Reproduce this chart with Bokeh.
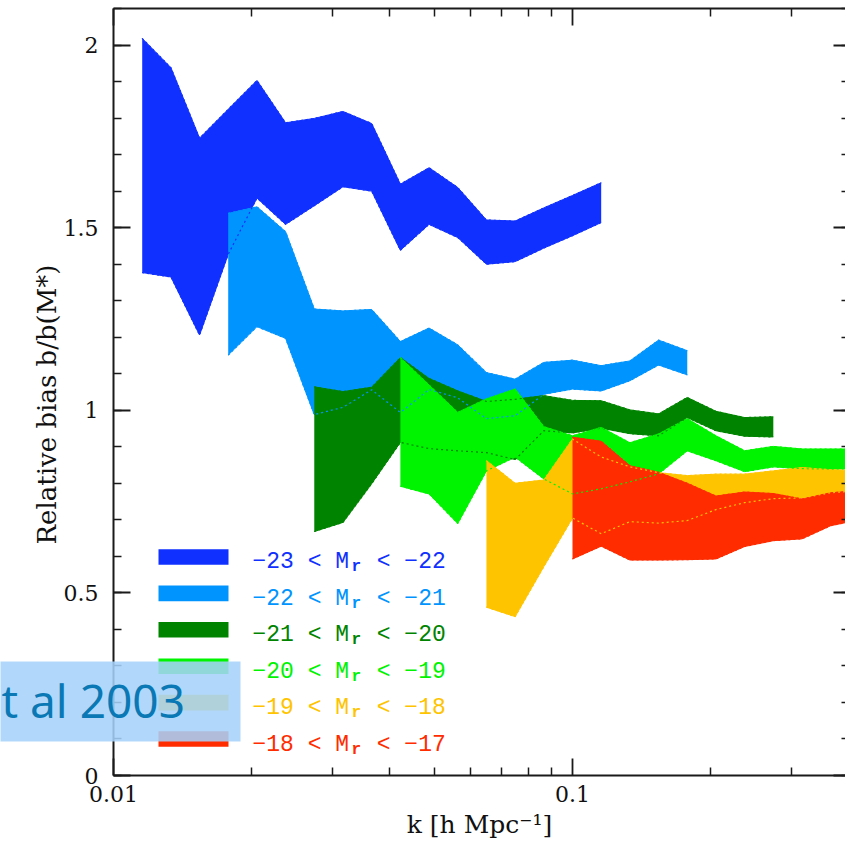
import math
from bokeh.plotting import figure
from bokeh.models import (Range1d, FixedTicker, SingleIntervalTicker, LinearAxis, LogAxis,
                          CustomJSTickFormatter, Label, BoxAnnotation)
from bokeh.embed import file_html
from bokeh.resources import INLINE

# ---------------- data ----------------
# k grid [h/Mpc], 16 bins per decade
k = [0.01155, 0.01334, 0.01540, 0.01778, 0.02054, 0.02371, 0.02738, 0.03162,
     0.03652, 0.04217, 0.04870, 0.05623, 0.06494, 0.07499, 0.08660, 0.10000,
     0.11548, 0.13335, 0.15399, 0.17783, 0.20535, 0.23714, 0.27384, 0.31623,
     0.36517, 0.42170]

# -23 < Mr < -22
k_m23 = k[0:17]
hi_m23 = [2.018, 1.938, 1.745, 1.824, 1.903, 1.787, 1.799, 1.818, 1.785, 1.619,
          1.664, 1.610, 1.521, 1.518, 1.554, 1.588, 1.623]
lo_m23 = [1.377, 1.365, 1.206, 1.427, 1.581, 1.509, 1.560, 1.612, 1.600, 1.438,
          1.509, 1.473, 1.400, 1.407, 1.444, 1.478, 1.514]

# -22 < Mr < -21
k_m22 = k[3:20]
hi_m22 = [1.539, 1.557, 1.489, 1.277, 1.272, 1.276, 1.188, 1.225, 1.179, 1.103,
          1.085, 1.131, 1.137, 1.122, 1.135, 1.192, 1.163]
lo_m22 = [1.151, 1.229, 1.197, 0.988, 1.008, 1.056, 0.994, 1.057, 1.034, 0.977,
          0.985, 1.044, 1.058, 1.053, 1.081, 1.124, 1.097]

# -21 < Mr < -20
k_m21 = k[6:23]
hi_m21 = [1.064, 1.051, 1.063, 1.144, 1.087, 1.053, 1.024, 1.030, 1.040, 1.027,
          1.026, 1.001, 0.990, 1.035, 0.997, 0.980, 0.982]
lo_m21 = [0.668, 0.693, 0.799, 0.912, 0.895, 0.889, 0.884, 0.865, 0.944, 0.938,
          0.951, 0.936, 0.930, 0.980, 0.944, 0.929, 0.927]

# -20 < Mr < -19
k_m20 = k[9:26]
hi_m20 = [1.144, 1.069, 0.994, 1.031, 1.058, 0.955, 0.930, 0.953, 0.911, 0.935,
          0.977, 0.930, 0.889, 0.901, 0.894, 0.894, 0.894]
lo_m20 = [0.792, 0.771, 0.690, 0.834, 0.872, 0.812, 0.771, 0.785, 0.804, 0.826,
          0.889, 0.862, 0.832, 0.845, 0.840, 0.839, 0.840]

# -19 < Mr < -18
k_m19 = k[12:26]
hi_m19 = [0.862, 0.800, 0.809, 0.921, 0.872, 0.845, 0.829, 0.821, 0.825, 0.825,
          0.834, 0.843, 0.837, 0.835]
lo_m19 = [0.461, 0.435, 0.572, 0.705, 0.662, 0.695, 0.691, 0.698, 0.728, 0.747,
          0.758, 0.760, 0.774, 0.780]

# -18 < Mr < -17
k_m18 = k[15:26]
hi_m18 = [0.926, 0.915, 0.848, 0.830, 0.800, 0.765, 0.776, 0.772, 0.757, 0.774, 0.780]
lo_m18 = [0.593, 0.628, 0.590, 0.590, 0.591, 0.593, 0.627, 0.643, 0.648, 0.684, 0.700]

mag_bright = ["\u221223", "\u221222", "\u221221", "\u221220", "\u221219", "\u221218"]
mag_faint = ["\u221222", "\u221221", "\u221220", "\u221219", "\u221218", "\u221217"]

x_ticks = [0.01, 0.1, 1.0]
x_minor = [0.02, 0.03, 0.04, 0.05, 0.06, 0.07, 0.08, 0.09, 0.2, 0.3, 0.4, 0.5]

# ---------------- styling / layout ----------------
colors = ["#1030ff", "#0094ff", "#008400", "#00f400", "#ffc400", "#ff2c00"]
bands = [(k_m23, lo_m23, hi_m23), (k_m22, lo_m22, hi_m22), (k_m21, lo_m21, hi_m21),
         (k_m20, lo_m20, hi_m20), (k_m19, lo_m19, hi_m19), (k_m18, lo_m18, hi_m18)]

SERIF = "DejaVu Serif"
AX = "#1a1a1a"
W, H = 845, 850
X0, X1 = 0.01, 0.39332          # plotted k interval (left axis .. right window edge)
Y0, Y1 = 0.0, 2.1               # plotted bias interval

# the frame spans the whole canvas; axes are pinned at the plot box edges
p = figure(width=W, height=H, x_axis_type="log",
           x_range=Range1d(0.0056735, X1), y_range=Range1d(-0.20534, 2.12189),
           output_backend="svg", toolbar_location=None,
           min_border_left=0, min_border_right=0, min_border_top=0, min_border_bottom=0)
p.outline_line_color = None
p.grid.visible = False
p.background_fill_color = "white"
p.border_fill_color = "white"

for (kk, lo, hi), c in zip(bands, colors):
    p.varea(x=kk, y1=lo, y2=hi, fill_color=c, fill_alpha=1.0)
    p.line(kk, lo, line_color=c, line_width=1.0)
    p.line(kk, hi, line_color=c, line_width=1.0)

for (kk, lo, hi), c in zip(bands, colors):
    p.line(kk, lo, line_color=c, line_width=1.2, line_dash="2 3")
    p.line(kk, hi, line_color=c, line_width=1.2, line_dash="2 3")

xticker = FixedTicker(ticks=x_ticks, minor_ticks=x_minor)
yticker = SingleIntervalTicker(interval=0.5, num_minor_ticks=5)
blank = CustomJSTickFormatter(code="return '';")

def style_axis(ax, labels=True):
    ax.axis_line_color = AX
    ax.axis_line_width = 2
    ax.major_tick_line_color = AX
    ax.minor_tick_line_color = AX
    ax.major_tick_line_width = 1.8
    ax.minor_tick_line_width = 1.5
    ax.major_tick_in = 17
    ax.major_tick_out = 0
    ax.minor_tick_in = 8
    ax.minor_tick_out = 0
    if labels:
        ax.major_label_text_font = SERIF
        ax.major_label_text_font_size = "22px"
        ax.major_label_text_color = "#111111"
        ax.axis_label_text_font = SERIF
        ax.axis_label_text_font_size = "25px"
        ax.axis_label_text_font_style = "normal"
        ax.axis_label_text_color = "#111111"
    else:
        ax.formatter = blank
        ax.major_label_text_font_size = "2px"
        ax.major_label_standoff = 0

xa = p.xaxis[0]
xa.ticker = xticker
xa.formatter = CustomJSTickFormatter(code="return String(+tick.toPrecision(6));")
style_axis(xa)
xa.fixed_location = Y0
xa.bounds = (X0, X1)
xa.major_label_standoff = 10
xa.axis_label = "k [h Mpc\u207b\u00b9]"
xa.axis_label_standoff = 5

ya = p.yaxis[0]
ya.ticker = yticker
ya.formatter = CustomJSTickFormatter(code="return String(+tick.toFixed(3));")
style_axis(ya)
ya.fixed_location = X0
ya.bounds = (Y0, Y1)
ya.major_label_standoff = 15

# y title placed as in the reference (slightly below the axis centre)
p.add_layout(Label(x=46, y=H - 404, x_units="screen", y_units="screen",
                   text="Relative bias b/b(M*)", angle=math.pi / 2,
                   text_font=SERIF, text_font_size="26px", text_color="#111111",
                   text_align="center", text_baseline="alphabetic"))

top = LogAxis(ticker=xticker, fixed_location=Y1, bounds=(X0, X1))
style_axis(top, labels=False)
p.add_layout(top, "above")

right = LinearAxis(ticker=yticker, fixed_location=X1, bounds=(Y0, Y1))
style_axis(right, labels=False)
right.axis_line_color = None
right.major_tick_in = 12
right.minor_tick_in = 4
p.add_layout(right, "right")

# ---------------- legend (screen units: canvas x, canvas height - y) ----------------
for i, c in enumerate(colors):
    cy = 556.5 + 36.4 * i
    p.add_layout(BoxAnnotation(left=158, right=228,
                               bottom=H - (cy + 7.8), top=H - (cy - 7.8),
                               left_units="screen", right_units="screen",
                               bottom_units="screen", top_units="screen",
                               fill_color=c, fill_alpha=1.0, line_color=None))
    base = 561.5 + 36.5 * i
    p.add_layout(Label(x=252, y=H - base, x_units="screen", y_units="screen",
                       text=f"{mag_bright[i]} < M\u00a0\u00a0< {mag_faint[i]}",
                       text_font="Liberation Mono", text_font_size="23px",
                       text_color=c, text_align="left", text_baseline="alphabetic"))
    p.add_layout(Label(x=351, y=H - (base + 5), x_units="screen", y_units="screen",
                       text="r", text_font="Liberation Mono", text_font_size="16px",
                       text_font_style="bold",
                       text_color=c, text_align="left", text_baseline="alphabetic"))

# ---------------- slide overlay ----------------
p.add_layout(BoxAnnotation(left=-5, right=240, bottom=H - 741, top=H - 661,
                           left_units="screen", right_units="screen",
                           bottom_units="screen", top_units="screen",
                           fill_color="#a5d2fa", fill_alpha=0.87, line_color=None))
p.add_layout(Label(x=1, y=H - 699, x_units="screen", y_units="screen",
                   text="t al 2003", text_font="Noto Sans", text_font_size="46px",
                   text_color="#0a78b4", text_align="left", text_baseline="middle"))

open("out.html", "w").write(file_html(p, INLINE))
